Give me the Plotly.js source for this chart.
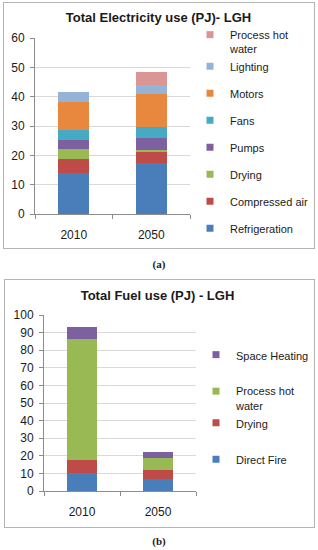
<!DOCTYPE html>
<html>
<head>
<meta charset="utf-8">
<script src="https://cdn.plot.ly/plotly-3.0.1.min.js"></script>
<style>
  html, body { margin: 0; padding: 0; background: #ffffff; width: 318px; height: 550px; overflow: hidden; }
  .plot { position: absolute; left: 0; width: 318px; }
  .frame { position: absolute; border: 1px solid #b4b4b4; box-sizing: border-box; pointer-events: none; z-index: 5; }
  .cap { position: absolute; left: 0; width: 318px; text-align: center; font-family: "Liberation Serif", "DejaVu Serif", serif; font-weight: bold; font-size: 11px; color: #222; }
</style>
</head>
<body>
<div id="chartA" class="plot" style="top:0px;height:252px;"></div>
<div class="frame" style="left:3px;top:2px;width:312px;height:247px;"></div>
<div class="cap" style="top:258px;">(a)</div>
<div id="chartB" class="plot" style="top:270px;height:270px;"></div>
<div class="frame" style="left:4px;top:279px;width:311px;height:249px;"></div>
<div class="cap" style="top:535px;">(b)</div>
<script>
// ---- Chart (a): Total Electricity use (PJ) - LGH ----
const yearsA = ["2010", "2050"];
const elecSeries = ["Refrigeration", "Compressed air", "Drying", "Pumps", "Fans", "Motors", "Lighting", "Process hot water"];
const elecLegendText = ["Refrigeration", "Compressed air", "Drying", "Pumps", "Fans", "Motors", "Lighting", "Process hot<br>water"];
const refrigeration = [14.1, 17.4];
const compressedAir = [4.8, 3.8];
const dryingElec = [3.3, 0.6];
const pumps = [3.1, 4.2];
const fans = [3.4, 3.7];
const motors = [9.4, 11.3];
const lighting = [3.5, 2.9];
const processHotWaterElec = [0, 4.4];
const elecTicks = [0, 10, 20, 30, 40, 50, 60];

// ---- Chart (b): Total Fuel use (PJ) - LGH ----
const yearsB = ["2010", "2050"];
const fuelSeries = ["Direct Fire", "Drying", "Process hot water", "Space Heating"];
const fuelLegendText = ["Direct Fire", "Drying", "Process hot<br>water", "Space Heating"];
const directFire = [10.2, 6.8];
const dryingFuel = [7.3, 5.0];
const processHotWaterFuel = [68.8, 7.2];
const spaceHeating = [7.0, 3.2];
const fuelTicks = [0, 10, 20, 30, 40, 50, 60, 70, 80, 90, 100];

const elecValues = [refrigeration, compressedAir, dryingElec, pumps, fans, motors, lighting, processHotWaterElec];
const fuelValues = [directFire, dryingFuel, processHotWaterFuel, spaceHeating];

const elecColors = ["#4a7ebb", "#be4b48", "#98b954", "#7d60a0", "#46aac5", "#e8883e", "#95b3d7", "#d99694"];
const fuelColors = ["#4a7ebb", "#be4b48", "#98b954", "#7d60a0"];
// legend grouping (items in the same group sit without the extra gap)
const elecGroups = ["g1", "g2", "g3", "g4", "g5", "g6", "g7", "g7"];
const fuelGroups = ["h1", "h2", "h2", "h4"];

const FONT = "Liberation Sans, Arial, sans-serif";

function buildTraces(cats, names, legendText, values, colors, groups) {
  const traces = [];
  names.forEach((n, i) => {
    traces.push({
      type: "bar", x: cats, y: values[i], name: n,
      marker: { color: colors[i], line: { width: 0 } },
      showlegend: false, hoverinfo: "name+y"
    });
  });
  // legend entries, top entry first (last stacked series on top)
  for (let i = names.length - 1; i >= 0; i--) {
    traces.push({
      type: "scatter", mode: "markers", x: [null], y: [null],
      name: legendText[i], legendgroup: groups[i],
      marker: { symbol: "square", size: 7, color: colors[i] },
      showlegend: true, hoverinfo: "skip"
    });
  }
  return traces;
}

function baseLayout(title, ticks, range, m) {
  return {
    width: 318,
    height: m.h,
    margin: { l: m.l, r: m.r, t: m.t, b: m.b, pad: 0 },
    paper_bgcolor: "#ffffff",
    plot_bgcolor: "#ffffff",
    barmode: "stack",
    bargap: 0.6,
    font: { family: FONT, size: 12, color: "#1a1a1a" },
    title: {
      text: "<b>" + title + "</b>",
      font: { family: FONT, size: 13, color: "#1a1a1a" },
      x: m.titleX / 318, xref: "container", xanchor: "center",
      y: 1 - m.titleY / m.h, yref: "container", yanchor: "middle"
    },
    xaxis: {
      type: "category",
      showline: true, linecolor: "#8c8c8c", linewidth: 1,
      ticks: "outside", tickson: "boundaries", ticklen: 4, tickcolor: "#8c8c8c",
      showgrid: false, zeroline: false,
      tickfont: { family: FONT, size: 12, color: "#1a1a1a" },
      ticklabelstandoff: 10,
      fixedrange: true
    },
    yaxis: {
      range: range, tickvals: ticks, ticktext: ticks.map(String),
      showline: true, linecolor: "#8c8c8c", linewidth: 1,
      ticks: "outside", ticklen: 4, tickcolor: "#8c8c8c",
      showgrid: true, gridcolor: "#d9d9d9", gridwidth: 1,
      zeroline: false,
      tickfont: { family: FONT, size: 12, color: "#1a1a1a" },
      ticklabelstandoff: 3,
      fixedrange: true
    },
    showlegend: true,
    legend: {
      x: m.legX / 318, xref: "container", xanchor: "left",
      y: 1 - m.legY / m.h, yref: "container", yanchor: "top",
      maxheight: m.h - m.legY,
      traceorder: "grouped",
      tracegroupgap: m.gap,
      valign: "top",
      itemwidth: 30,
      font: { family: FONT, size: 11, color: "#1a1a1a" },
      bgcolor: "rgba(0,0,0,0)", borderwidth: 0
    }
  };
}

const layoutA = baseLayout("Total Electricity use (PJ)- LGH", elecTicks, [0, 60],
  { h: 252, l: 35, r: 115, t: 38, b: 38, titleX: 158.5, titleY: 17, legX: 190, legY: 21, gap: 8 });
const layoutB = baseLayout("Total Fuel use (PJ) - LGH", fuelTicks, [0, 100],
  { h: 270, l: 44, r: 107, t: 45, b: 49, titleX: 157.5, titleY: 25, legX: 196, legY: 71, gap: 17.5 });

const config = { staticPlot: true, displayModeBar: false };
Plotly.newPlot("chartA", buildTraces(yearsA, elecSeries, elecLegendText, elecValues, elecColors, elecGroups), layoutA, config);
Plotly.newPlot("chartB", buildTraces(yearsB, fuelSeries, fuelLegendText, fuelValues, fuelColors, fuelGroups), layoutB, config);
</script>
</body>
</html>
